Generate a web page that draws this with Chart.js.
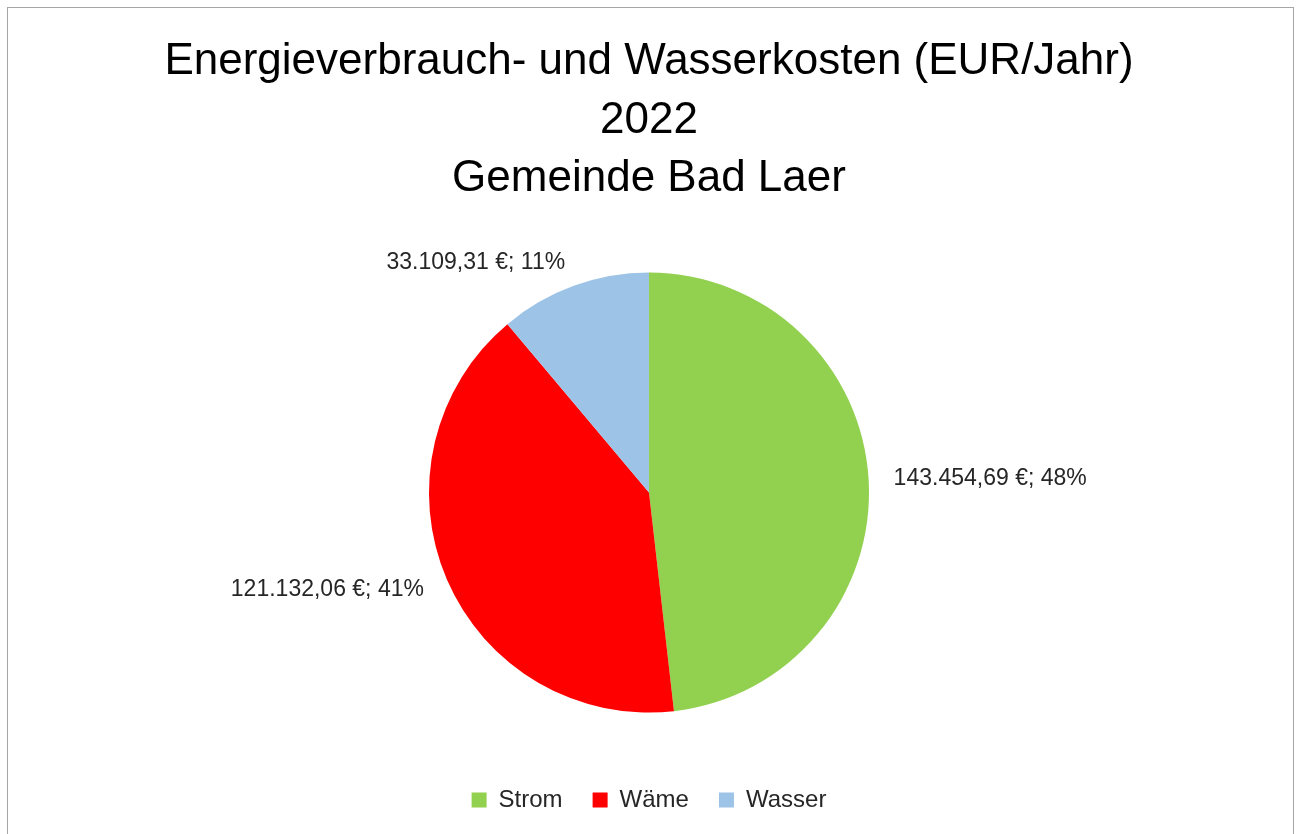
<!DOCTYPE html>
<html>
<head>
<meta charset="utf-8">
<script src="https://cdn.jsdelivr.net/npm/chart.js@4"></script>
<style>
  body { margin: 0; background: #fff; }
  #frame { position: absolute; left: 7px; top: 7px; width: 1285px; height: 900px; border: 1px solid #a6a6a6; }
  #wrap { position: absolute; left: 0; top: 0; width: 1298px; height: 834px; }
</style>
</head>
<body>
<div id="frame"></div>
<div id="wrap"><canvas id="canvas"></canvas></div>
<script>
var categories = ["Strom", "Wäme", "Wasser"];
var costs = [143454.69, 121132.06, 33109.31];
var colors = ["#92d050", "#ff0000", "#9dc3e6"];
var titleLines = ["Energieverbrauch- und Wasserkosten (EUR/Jahr)", "2022", "Gemeinde Bad Laer"];

function formatEuro(v) {
    var parts = v.toFixed(2).split(".");
    var intPart = parts[0].replace(/\B(?=(\d{3})+(?!\d))/g, ".");
    return intPart + "," + parts[1] + " €";
}

var total = costs.reduce(function(a, b) { return a + b; }, 0);

// labels outside the slices, like Excel "best fit"
var outsideLabels = {
    id: "outsideLabels",
    afterDatasetsDraw: function(chart) {
        var ctx = chart.ctx;
        var meta = chart.getDatasetMeta(0);
        ctx.save();
        ctx.font = "23px 'Liberation Sans', Arial, sans-serif";
        ctx.fillStyle = "#262626";
        ctx.textBaseline = "middle";
        meta.data.forEach(function(arc, i) {
            var mid = (arc.startAngle + arc.endAngle) / 2;
            var r = arc.outerRadius + 25;
            var x = arc.x + Math.cos(mid) * r;
            var y = arc.y + Math.sin(mid) * r;
            ctx.textAlign = Math.cos(mid) >= 0 ? "left" : "right";
            var pct = Math.round(costs[i] / total * 100);
            ctx.fillText(formatEuro(costs[i]) + "; " + pct + "%", x, y);
        });
        ctx.restore();
    }
};

window.onload = function() {
    var ctx = document.getElementById("canvas").getContext("2d");
    new Chart(ctx, {
        type: "pie",
        data: {
            labels: categories,
            datasets: [{
                data: costs,
                backgroundColor: colors,
                borderWidth: 0
            }]
        },
        options: {
            responsive: true,
            maintainAspectRatio: false,
            animation: false,
            layout: { padding: { top: 0, bottom: 12, left: 0, right: 0 } },
            plugins: {
                title: {
                    display: true,
                    text: titleLines,
                    color: "#000",
                    font: { family: "'Liberation Sans', Arial, sans-serif", size: 44, weight: "normal", lineHeight: 1.33 },
                    padding: { top: 33, bottom: 64 }
                },
                legend: {
                    position: "bottom",
                    title: { display: true, text: "", font: { size: 12 }, padding: { top: 31, bottom: 0 } },
                    labels: {
                        color: "#262626",
                        font: { family: "'Liberation Sans', Arial, sans-serif", size: 24 },
                        boxWidth: 15,
                        boxHeight: 15,
                        padding: 30
                    }
                },
                tooltip: { enabled: false }
            }
        },
        plugins: [outsideLabels]
    });
};
</script>
</body>
</html>
